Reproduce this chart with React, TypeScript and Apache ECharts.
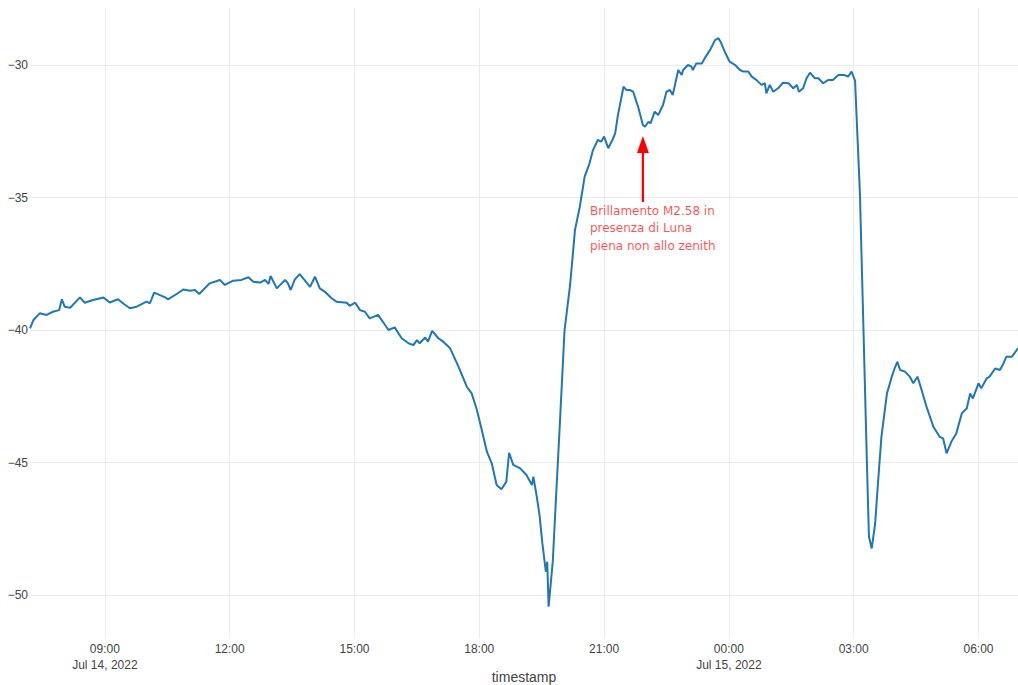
import React, { useEffect, useRef } from "react";
import * as echarts from "echarts";

const timestamps: string[] = [
  "2022-07-14 07:12","2022-07-14 07:17","2022-07-14 07:26","2022-07-14 07:36","2022-07-14 07:45","2022-07-14 07:54","2022-07-14 07:58","2022-07-14 08:02","2022-07-14 08:10","2022-07-14 08:24",
  "2022-07-14 08:31","2022-07-14 08:43","2022-07-14 08:58","2022-07-14 09:07","2022-07-14 09:19","2022-07-14 09:26","2022-07-14 09:36","2022-07-14 09:46","2022-07-14 10:00","2022-07-14 10:05",
  "2022-07-14 10:11","2022-07-14 10:27","2022-07-14 10:31","2022-07-14 10:43","2022-07-14 10:53","2022-07-14 11:03","2022-07-14 11:10","2022-07-14 11:16","2022-07-14 11:31","2022-07-14 11:46",
  "2022-07-14 11:53","2022-07-14 12:05","2022-07-14 12:17","2022-07-14 12:27","2022-07-14 12:34","2022-07-14 12:44","2022-07-14 12:51","2022-07-14 12:56","2022-07-14 12:59","2022-07-14 13:08",
  "2022-07-14 13:15","2022-07-14 13:20","2022-07-14 13:24","2022-07-14 13:28","2022-07-14 13:34","2022-07-14 13:41","2022-07-14 13:46","2022-07-14 13:56","2022-07-14 14:03","2022-07-14 14:10",
  "2022-07-14 14:17","2022-07-14 14:27","2022-07-14 14:34","2022-07-14 14:49","2022-07-14 14:53","2022-07-14 15:01","2022-07-14 15:08","2022-07-14 15:15","2022-07-14 15:22","2022-07-14 15:34",
  "2022-07-14 15:41","2022-07-14 15:49","2022-07-14 15:58","2022-07-14 16:08","2022-07-14 16:18","2022-07-14 16:25","2022-07-14 16:30","2022-07-14 16:34","2022-07-14 16:42","2022-07-14 16:46",
  "2022-07-14 16:52","2022-07-14 17:01","2022-07-14 17:08","2022-07-14 17:18","2022-07-14 17:30","2022-07-14 17:42","2022-07-14 17:49","2022-07-14 17:56","2022-07-14 18:03","2022-07-14 18:11",
  "2022-07-14 18:18","2022-07-14 18:25","2022-07-14 18:32","2022-07-14 18:39","2022-07-14 18:43","2022-07-14 18:49","2022-07-14 18:59","2022-07-14 19:08","2022-07-14 19:16","2022-07-14 19:18",
  "2022-07-14 19:23","2022-07-14 19:27","2022-07-14 19:31","2022-07-14 19:36","2022-07-14 19:38","2022-07-14 19:40","2022-07-14 19:46","2022-07-14 19:51","2022-07-14 19:56","2022-07-14 20:03",
  "2022-07-14 20:11","2022-07-14 20:18","2022-07-14 20:25","2022-07-14 20:32","2022-07-14 20:39","2022-07-14 20:44","2022-07-14 20:51","2022-07-14 20:56","2022-07-14 21:00","2022-07-14 21:06",
  "2022-07-14 21:12","2022-07-14 21:16","2022-07-14 21:20","2022-07-14 21:28","2022-07-14 21:32","2022-07-14 21:37","2022-07-14 21:42","2022-07-14 21:49","2022-07-14 21:56","2022-07-14 21:59",
  "2022-07-14 22:04","2022-07-14 22:07","2022-07-14 22:13","2022-07-14 22:18","2022-07-14 22:25","2022-07-14 22:30","2022-07-14 22:35","2022-07-14 22:39","2022-07-14 22:47","2022-07-14 22:52",
  "2022-07-14 22:54","2022-07-14 23:01","2022-07-14 23:06","2022-07-14 23:08","2022-07-14 23:13","2022-07-14 23:21","2022-07-14 23:25","2022-07-14 23:33","2022-07-14 23:40","2022-07-14 23:45",
  "2022-07-14 23:48","2022-07-14 23:54","2022-07-15 00:01","2022-07-15 00:09","2022-07-15 00:16","2022-07-15 00:21","2022-07-15 00:28","2022-07-15 00:33","2022-07-15 00:40","2022-07-15 00:47",
  "2022-07-15 00:52","2022-07-15 00:54","2022-07-15 00:59","2022-07-15 01:04","2022-07-15 01:11","2022-07-15 01:18","2022-07-15 01:26","2022-07-15 01:33","2022-07-15 01:38","2022-07-15 01:41",
  "2022-07-15 01:47","2022-07-15 01:52","2022-07-15 01:57","2022-07-15 02:04","2022-07-15 02:09","2022-07-15 02:16","2022-07-15 02:23","2022-07-15 02:30","2022-07-15 02:38","2022-07-15 02:47",
  "2022-07-15 02:52","2022-07-15 02:57","2022-07-15 03:02","2022-07-15 03:04","2022-07-15 03:09","2022-07-15 03:14","2022-07-15 03:19","2022-07-15 03:22","2022-07-15 03:26","2022-07-15 03:31",
  "2022-07-15 03:35","2022-07-15 03:40","2022-07-15 03:48","2022-07-15 03:55","2022-07-15 03:59","2022-07-15 04:03","2022-07-15 04:07","2022-07-15 04:14","2022-07-15 04:21","2022-07-15 04:26",
  "2022-07-15 04:32","2022-07-15 04:38","2022-07-15 04:45","2022-07-15 04:55","2022-07-15 05:04","2022-07-15 05:09","2022-07-15 05:14","2022-07-15 05:21","2022-07-15 05:28","2022-07-15 05:36",
  "2022-07-15 05:43","2022-07-15 05:48","2022-07-15 05:52","2022-07-15 06:00","2022-07-15 06:04","2022-07-15 06:12","2022-07-15 06:16","2022-07-15 06:24","2022-07-15 06:31","2022-07-15 06:36",
  "2022-07-15 06:40","2022-07-15 06:48","2022-07-15 06:57",
];

const values: number[] = [
  -39.94,-39.62,-39.37,-39.43,-39.31,-39.25,-38.84,-39.12,-39.16,-38.77,
  -38.97,-38.87,-38.77,-38.96,-38.84,-38.99,-39.18,-39.12,-38.93,-38.99,
  -38.59,-38.77,-38.84,-38.65,-38.47,-38.52,-38.49,-38.64,-38.24,-38.11,
  -38.30,-38.14,-38.11,-38.01,-38.18,-38.21,-38.11,-38.26,-37.96,-38.43,
  -38.24,-38.11,-38.24,-38.49,-38.09,-37.89,-38.05,-38.37,-37.99,-38.43,
  -38.55,-38.80,-38.93,-38.97,-39.09,-38.97,-39.25,-39.31,-39.56,-39.43,
  -39.69,-40.00,-39.90,-40.31,-40.50,-40.57,-40.38,-40.50,-40.28,-40.44,
  -40.03,-40.31,-40.44,-40.69,-41.38,-42.14,-42.39,-42.96,-43.71,-44.59,
  -45.03,-45.85,-46.01,-45.72,-44.63,-45.09,-45.22,-45.47,-45.85,-45.53,
  -46.30,-47.00,-48.05,-49.12,-48.74,-50.44,-48.74,-46.16,-43.65,-40.00,
  -38.30,-36.23,-35.35,-34.21,-33.71,-33.21,-32.83,-32.89,-32.70,-33.14,
  -32.83,-32.58,-31.89,-30.82,-30.94,-30.94,-31.01,-31.57,-32.26,-32.33,
  -32.14,-32.20,-31.76,-31.89,-31.51,-31.01,-30.94,-31.13,-30.19,-30.38,
  -30.19,-30.00,-30.06,-30.19,-29.94,-29.94,-29.75,-29.43,-29.06,-28.99,
  -29.12,-29.50,-29.87,-30.00,-30.19,-30.25,-30.25,-30.44,-30.57,-30.75,
  -30.69,-31.07,-30.75,-31.01,-30.88,-30.67,-30.69,-30.88,-30.75,-31.01,
  -30.88,-30.50,-30.29,-30.50,-30.50,-30.69,-30.57,-30.57,-30.38,-30.38,
  -30.44,-30.25,-30.60,-31.82,-34.84,-39.87,-44.91,-47.80,-48.24,-47.30,
  -45.79,-44.03,-42.39,-41.76,-41.45,-41.20,-41.51,-41.57,-41.76,-42.01,
  -41.76,-42.26,-42.89,-43.65,-44.03,-44.09,-44.65,-44.21,-43.90,-43.14,
  -42.96,-42.39,-42.58,-42.01,-42.20,-41.82,-41.76,-41.45,-41.51,-41.26,
  -41.01,-41.01,-40.69,
];

const xTickTimes: string[] = [
  "2022-07-14 09:00","2022-07-14 12:00","2022-07-14 15:00","2022-07-14 18:00",
  "2022-07-14 21:00","2022-07-15 00:00","2022-07-15 03:00","2022-07-15 06:00",
];
const xRange: string[] = ["2022-07-14 07:12", "2022-07-15 06:57"];
const yTicks: number[] = [-50, -45, -40, -35, -30];
const yRange: number[] = [-51.62, -27.85];

const annotationTime = "2022-07-14 21:56";
const annotationValue = -32.68;
const annotationLines: string[] = ["Brillamento M2.58 in", "presenza di Luna", "piena non allo zenith"];
const xAxisTitle = "timestamp";

const toMs = (s: string) => new Date(s.replace(" ", "T") + ":00").getTime();
const MONTHS = ["Jan","Feb","Mar","Apr","May","Jun","Jul","Aug","Sep","Oct","Nov","Dec"];
const pad = (n: number) => (n < 10 ? "0" + n : "" + n);

export default function App() {
  const ref = useRef<HTMLDivElement>(null);
  useEffect(() => {
    if (!ref.current) return;
    const chart = echarts.init(ref.current, undefined, { renderer: "svg" });
    const tickMs = xTickTimes.map(toMs);
    const firstTick = tickMs[0];
    const labelFont = '"Liberation Sans", Arial, sans-serif';
    const gridLeft = 30;
    const gridRight = 0;
    const gridBottom = 47;
    chart.setOption({
      animation: false,
      backgroundColor: "#ffffff",
      grid: { left: gridLeft, right: gridRight, top: 8, bottom: gridBottom, containLabel: false, outerBoundsMode: "none" },
      xAxis: {
        type: "value",
        min: toMs(xRange[0]),
        max: toMs(xRange[1]),
        axisLine: { show: false },
        axisTick: { show: false, customValues: tickMs },
        axisLabel: {
          customValues: tickMs,
          margin: 3,
          color: "#444",
          fontSize: 12,
          lineHeight: 16,
          fontFamily: labelFont,
          formatter: (v: number) => {
            const d = new Date(v);
            const base = pad(d.getHours()) + ":" + pad(d.getMinutes());
            if (v === firstTick || d.getHours() === 0) {
              return base + "\n" + MONTHS[d.getMonth()] + " " + d.getDate() + ", " + d.getFullYear();
            }
            return base;
          },
        },
        splitLine: { show: true, lineStyle: { color: "#ebebeb", width: 1 } },
      },
      yAxis: {
        type: "value",
        min: yRange[0],
        max: yRange[1],
        axisLine: { show: false },
        axisTick: { show: false, customValues: yTicks },
        axisLabel: {
          customValues: yTicks,
          margin: 2,
          color: "#444",
          fontSize: 12,
          fontFamily: labelFont,
          formatter: (v: number) => (v < 0 ? "\u2212" + Math.abs(v) : String(v)),
        },
        splitLine: { show: true, lineStyle: { color: "#ebebeb", width: 1 } },
      },
      series: [
        {
          type: "line",
          data: timestamps.map((t, i) => [toMs(t), values[i]]),
          showSymbol: false,
          symbol: "none",
          lineStyle: { color: "#1f77b4", width: 2 },
          itemStyle: { color: "#1f77b4" },
          silent: true,
        },
      ],
    });
    const W = chart.getWidth();
    const H = chart.getHeight();
    const graphics: any[] = [
      {
        type: "text",
        x: gridLeft + (W - gridLeft - gridRight) / 2,
        y: H - 1,
        style: {
          text: xAxisTitle,
          fill: "#444",
          font: '14px "Liberation Sans", Arial, sans-serif',
          align: "center",
          verticalAlign: "bottom",
        },
        silent: true,
      },
    ];
    const p = chart.convertToPixel({ gridIndex: 0 }, [toMs(annotationTime), annotationValue]) as number[];
    if (p && isFinite(p[0]) && isFinite(p[1])) {
      const [px, py] = p;
      graphics.push(
        {
          type: "line",
          shape: { x1: px, y1: py + 15, x2: px, y2: py + 66 },
          style: { stroke: "#ff0000", lineWidth: 2.3 },
          silent: true,
        },
        {
          type: "polygon",
          shape: { points: [[px, py], [px - 6, py + 17], [px + 6, py + 17]] },
          style: { fill: "#ff0000" },
          silent: true,
        },
        {
          type: "text",
          x: px - 53,
          y: py + 66,
          style: {
            text: annotationLines.join("\n"),
            fill: "rgba(255,0,0,0.7)",
            font: '12px "DejaVu Sans", sans-serif',
            lineHeight: 17.5,
            align: "left",
            verticalAlign: "top",
          },
          silent: true,
        }
      );
    }
    chart.setOption({ graphic: graphics });
    return () => chart.dispose();
  }, []);
  return (
    <div
      ref={ref}
      style={{ position: "fixed", left: 0, top: 0, width: 1018, height: 685, background: "#fff" }}
    />
  );
}
